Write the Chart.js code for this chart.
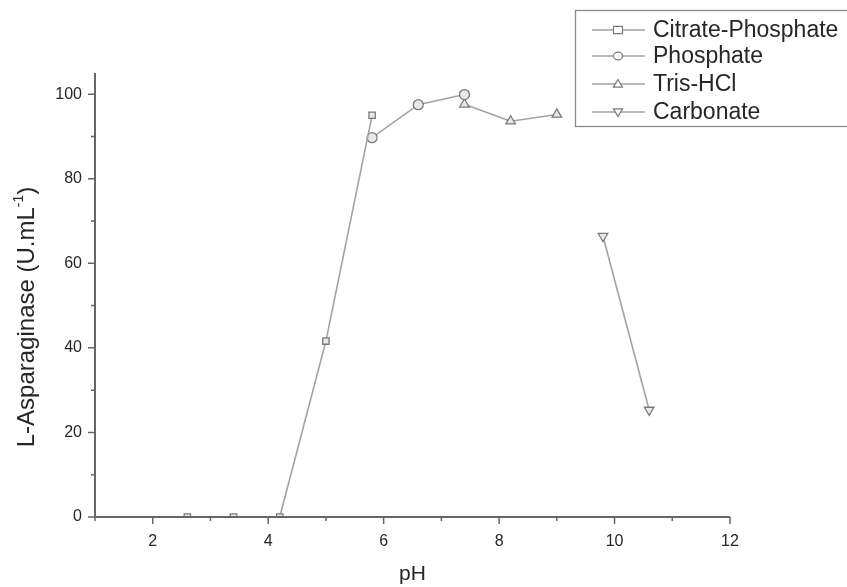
<!DOCTYPE html>
<html>
<head>
<meta charset="utf-8">
<script src="https://cdn.jsdelivr.net/npm/chart.js@4"></script>
<style>
html,body{margin:0;padding:0;background:#fff;}
#wrap{width:847px;height:587px;position:relative;}
</style>
</head>
<body>
<div id="wrap"><canvas id="c" width="847" height="587"></canvas></div>
<script>
const citratePH = [2.6, 3.4, 4.2, 5.0, 5.8];
const citrateVal = [0, 0, 0, 41.6, 95.0];
const phosphatePH = [5.8, 6.6, 7.4];
const phosphateVal = [89.7, 97.5, 99.9];
const trisPH = [7.4, 8.2, 9.0];
const trisVal = [97.6, 93.6, 95.2];
const carbonatePH = [9.8, 10.6];
const carbonateVal = [66.4, 25.3];
const seriesNames = ['Citrate-Phosphate', 'Phosphate', 'Tris-HCl', 'Carbonate'];
const xTicks = [2, 4, 6, 8, 10, 12];
const yTicks = [0, 20, 40, 60, 80, 100];
const yTitleMain = 'L-Asparaginase (U.mL';
const yTitleSup = '-1';
const yTitleEnd = ')';

const LINE = '#a2a2a2';
const MARK = '#7a7a7a';
const AXIS = '#666666';
const TEXT = '#262626';
const FONT = "'Liberation Sans', Arial, sans-serif";

function pts(xs, ys){ return xs.map((x,i)=>({x:x, y:ys[i]})); }
function ds(label, xs, ys, style, rot, r){
  return {label, data: pts(xs, ys), showLine: true, borderColor: LINE, borderWidth: 1.6,
    pointStyle: style, pointRotation: rot, pointRadius: r, pointBorderColor: MARK,
    pointBackgroundColor: 'rgba(232,232,232,1)', pointBorderWidth: 1.3, tension: 0};
}

const axesPlugin = {
  id: 'axesPlugin',
  afterDraw(chart){
    const ctx = chart.ctx, xs = chart.scales.x, ys = chart.scales.y;
    const a = chart.chartArea;
    ctx.save();
    ctx.strokeStyle = AXIS; ctx.lineWidth = 2;
    ctx.beginPath();
    ctx.moveTo(a.left, a.top); ctx.lineTo(a.left, a.bottom + 1);
    ctx.moveTo(a.left - 1, a.bottom); ctx.lineTo(a.right, a.bottom);
    ctx.stroke();
    ctx.lineWidth = 1.5;
    ctx.beginPath();
    for (let v = 1; v <= 12; v++) {
      const px = xs.getPixelForValue(v);
      const len = (v % 2 === 0) ? 7 : 4;
      ctx.moveTo(px, a.bottom); ctx.lineTo(px, a.bottom + len);
    }
    for (let v = 0; v <= 100; v += 10) {
      const py = ys.getPixelForValue(v);
      const len = (v % 20 === 0) ? 7 : 4;
      ctx.moveTo(a.left, py); ctx.lineTo(a.left - len, py);
    }
    ctx.stroke();

    // y-axis title with superscript
    ctx.translate(27, 317);
    ctx.rotate(-Math.PI / 2);
    ctx.fillStyle = TEXT;
    ctx.textBaseline = 'middle';
    const mainF = "24px " + FONT, supF = "14px " + FONT;
    ctx.font = mainF; const w1 = ctx.measureText(yTitleMain).width, w3 = ctx.measureText(yTitleEnd).width;
    ctx.font = supF; const w2 = ctx.measureText(yTitleSup).width;
    let x0 = -(w1 + w2 + w3) / 2;
    ctx.font = mainF; ctx.fillText(yTitleMain, x0, 0);
    ctx.font = supF; ctx.fillText(yTitleSup, x0 + w1, -8);
    ctx.font = mainF; ctx.fillText(yTitleEnd, x0 + w1 + w2, 0);
    ctx.restore();
  }
};

function drawMarker(ctx, style, rot, x, y, r){
  if (style === 'rect') { ctx.rect(x - r, y - r * 0.8, 2 * r, 1.6 * r); }
  else if (style === 'circle') { ctx.ellipse(x, y, r, r * 0.85, 0, 0, Math.PI * 2); }
  else {
    const s = rot ? -1 : 1;
    ctx.moveTo(x, y - s * r); ctx.lineTo(x + r, y + s * r * 0.7); ctx.lineTo(x - r, y + s * r * 0.7); ctx.closePath();
  }
}

const legendBox = {
  id: 'legendBox',
  afterDraw(chart){
    const ctx = chart.ctx;
    ctx.save();
    ctx.strokeStyle = '#8a8a8a'; ctx.lineWidth = 1.3;
    ctx.strokeRect(575.5, 10.5, 290, 116);
    ctx.font = "23px " + FONT;
    ctx.textBaseline = 'middle';
    const rows = [30, 56, 84, 112];
    chart.data.datasets.forEach((d, i) => {
      const y = rows[i];
      ctx.strokeStyle = LINE; ctx.lineWidth = 1.6;
      ctx.beginPath(); ctx.moveTo(592, y); ctx.lineTo(645, y); ctx.stroke();
      ctx.fillStyle = '#ffffff'; ctx.strokeStyle = MARK; ctx.lineWidth = 1.2;
      ctx.beginPath();
      drawMarker(ctx, d.pointStyle, d.pointRotation, 618, y, 4.5);
      ctx.fill(); ctx.stroke();
      ctx.fillStyle = TEXT;
      ctx.fillText(seriesNames[i], 653, y + 1);
    });
    ctx.restore();
  }
};

new Chart(document.getElementById('c'), {
  type: 'scatter',
  data: { datasets: [
    ds(seriesNames[0], citratePH, citrateVal, 'rect', 0, 4.5),
    ds(seriesNames[1], phosphatePH, phosphateVal, 'circle', 0, 5),
    ds(seriesNames[2], trisPH, trisVal, 'triangle', 0, 5.5),
    ds(seriesNames[3], carbonatePH, carbonateVal, 'triangle', 180, 5.5)
  ]},
  options: {
    responsive: false, animation: false,
    layout: { padding: { top: 73, right: 117, left: 0, bottom: 0 } },
    plugins: { legend: { display: false }, tooltip: { enabled: false } },
    scales: {
      x: {
        type: 'linear', min: 1, max: 12,
        afterBuildTicks(s){ s.ticks = xTicks.map(v => ({value: v})); },
        afterFit(s){ s.height = 70; },
        border: { display: false },
        grid: { display: false },
        ticks: { color: TEXT, font: { family: FONT, size: 16 }, padding: 7, maxRotation: 0 },
        title: { display: true, text: 'pH', color: TEXT, font: { family: FONT, size: 21 }, padding: { top: 4, bottom: 0 } }
      },
      y: {
        type: 'linear', min: 0, max: 105,
        afterBuildTicks(s){ s.ticks = yTicks.map(v => ({value: v})); },
        afterFit(s){ s.width = 95; },
        border: { display: false },
        grid: { display: false },
        ticks: { color: TEXT, font: { family: FONT, size: 16 }, padding: 5 },
        title: { display: false }
      }
    }
  },
  plugins: [axesPlugin, legendBox]
});
</script>
</body>
</html>
